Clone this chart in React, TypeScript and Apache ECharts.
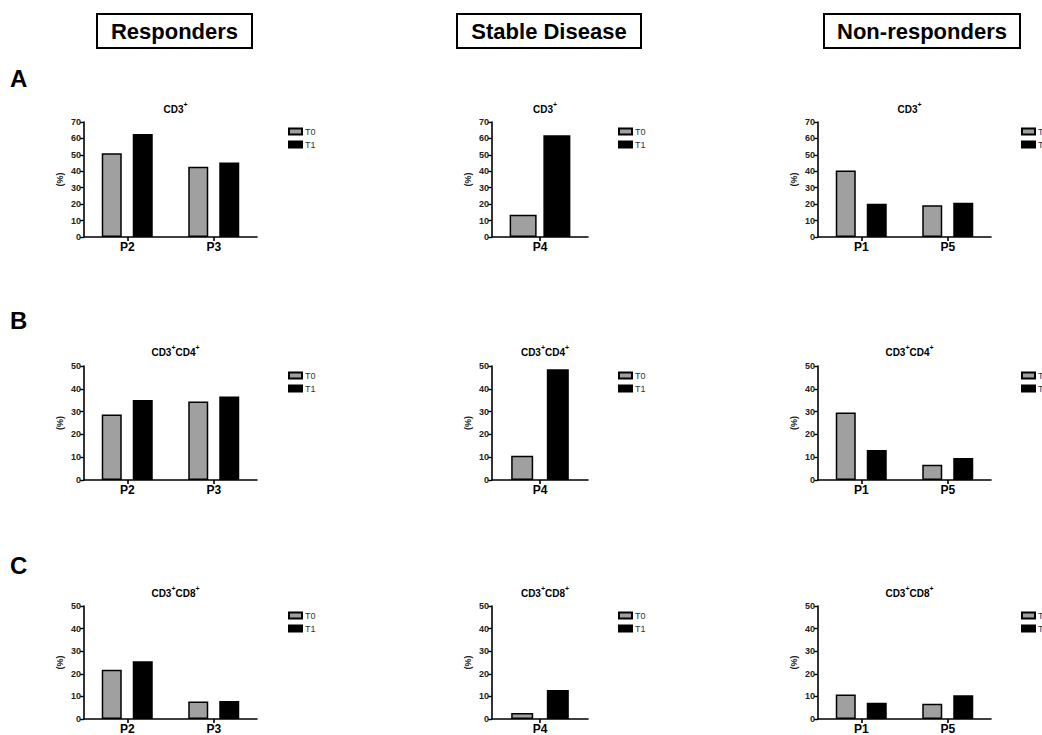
import React, { useEffect, useRef } from "react";
import * as echarts from "echarts";

// ---------- data ----------
const groupNames = ["Responders", "Stable Disease", "Non-responders"];
const panelLetters = ["A", "B", "C"];
const panelTitles = ["{b|CD3}{s|+}", "{b|CD3}{s|+}{b|CD4}{s|+}", "{b|CD3}{s|+}{b|CD8}{s|+}"];
const patients = [["P2", "P3"], ["P4"], ["P1", "P5"]];
const seriesNames = ["T0", "T1"];
const yMax = [70, 50, 50];
const yInterval = 10;

// values per row (A, B, C) -> per column (group) -> per patient
const cd3T0 = [[51, 42.8], [13.5], [40.5, 19.3]];
const cd3T1 = [[62.7, 45.3], [62], [20.3, 20.8]];
const cd4T0 = [[28.7, 34.4], [10.6], [29.6, 6.7]];
const cd4T1 = [[35.1, 36.6], [48.6], [13.2, 9.7]];
const cd8T0 = [[21.8, 7.7], [2.6], [10.8, 6.8]];
const cd8T1 = [[25.6, 8.0], [12.8], [7.2, 10.5]];

const rowData = [
  [cd3T0, cd3T1],
  [cd4T0, cd4T1],
  [cd8T0, cd8T1],
];

// ---------- layout ----------
const FONT = "Liberation Sans, Arial, sans-serif";
const colLeft = [84, 492, 818];
const colWidth = [173, 96, 173];
const rowTop = [122, 366, 606];
const rowHeight = [115, 114, 116];
const titleY = [96, 339, 580];
const legendLeft = [283, 613, 1016];
const headerBoxes = [
  { x: 97, w: 155 },
  { x: 457, w: 184 },
  { x: 824, w: 196 },
];
const letterY = [66, 308, 553];

export default function App() {
  const ref = useRef<HTMLDivElement>(null);

  useEffect(() => {
    document.body.style.margin = "0";
    const chart = echarts.init(ref.current!, undefined, { renderer: "svg" });

    const grids: any[] = [];
    const xAxes: any[] = [];
    const yAxes: any[] = [];
    const series: any[] = [];
    const titles: any[] = [];
    const legends: any[] = [];

    let gi = 0;
    for (let r = 0; r < 3; r++) {
      for (let c = 0; c < 3; c++) {
        grids.push({
          left: colLeft[c],
          top: rowTop[r],
          width: colWidth[c],
          height: rowHeight[r],
          containLabel: false,
        });
        xAxes.push({
          type: "category",
          gridIndex: gi,
          data: patients[c],
          axisLine: { lineStyle: { color: "#000", width: 1.6 } },
          axisTick: { show: true, alignWithLabel: true, length: 4, lineStyle: { color: "#000", width: 1.6 } },
          axisLabel: { color: "#000", fontSize: 12, fontWeight: "bold", fontFamily: FONT, margin: 4 },
        });
        yAxes.push({
          type: "value",
          gridIndex: gi,
          min: 0,
          max: yMax[r],
          interval: yInterval,
          name: "(%)",
          nameLocation: "middle",
          nameGap: 20,
          nameRotate: 90,
          nameTextStyle: { color: "#222", fontSize: 9, fontWeight: "bold", fontFamily: FONT },
          splitLine: { show: false },
          axisLine: { show: true, lineStyle: { color: "#000", width: 1.6 } },
          axisTick: { show: true, length: 4, lineStyle: { color: "#000", width: 1.4 } },
          axisLabel: { color: "#222", fontSize: 9, fontWeight: "bold", fontFamily: FONT, margin: 3 },
        });
        const narrow = c === 1;
        const bw = narrow ? (r === 0 ? 27 : 22) : 20;
        const gap = narrow ? (r === 0 ? "25%" : "62%") : "55%";
        for (let s = 0; s < 2; s++) {
          series.push({
            type: "bar",
            name: seriesNames[s],
            xAxisIndex: gi,
            yAxisIndex: gi,
            data: rowData[r][s][c],
            barWidth: bw,
            barGap: gap,
            itemStyle: {
              color: s === 0 ? "#a0a0a0" : "#000",
              borderColor: "#000",
              borderWidth: 1.5,
            },
          });
        }
        titles.push({
          text: panelTitles[r],
          left: colLeft[c] + colWidth[c] / 2,
          top: titleY[r],
          textAlign: "center",
          textStyle: {
            rich: {
              b: { fontSize: 10, fontWeight: "bold", color: "#000", fontFamily: FONT, lineHeight: 13, verticalAlign: "bottom" },
              s: { fontSize: 7, fontWeight: "bold", color: "#000", fontFamily: FONT, lineHeight: 13, verticalAlign: "top" },
            },
          },
        });
        legends.push({
          data: seriesNames,
          orient: "vertical",
          left: legendLeft[c],
          top: rowTop[r],
          itemWidth: 13,
          itemHeight: 6,
          itemGap: 4,
          icon: "rect",
          selectedMode: false,
          textStyle: { fontSize: 9, color: "#333", fontFamily: FONT, padding: [0, 0, 0, -2] },
        });
        gi++;
      }
    }

    const graphics: any[] = [];
    headerBoxes.forEach((b, i) => {
      graphics.push({
        type: "rect",
        shape: { x: b.x, y: 14, width: b.w, height: 34 },
        style: { fill: "#fff", stroke: "#000", lineWidth: 2 },
      });
      graphics.push({
        type: "text",
        x: b.x + b.w / 2,
        y: 31,
        style: {
          text: groupNames[i],
          fill: "#000",
          font: `bold 22px ${FONT}`,
          textAlign: "center",
          textVerticalAlign: "middle",
        },
      });
    });
    panelLetters.forEach((l, i) => {
      graphics.push({
        type: "text",
        x: 10,
        y: letterY[i],
        style: { text: l, fill: "#000", font: `bold 24px ${FONT}` },
      });
    });

    chart.setOption({
      animation: false,
      backgroundColor: "#fff",
      title: titles,
      legend: legends,
      grid: grids,
      xAxis: xAxes,
      yAxis: yAxes,
      series,
      graphic: graphics,
    });

    return () => chart.dispose();
  }, []);

  return <div ref={ref} style={{ width: 1042, height: 735 }} />;
}
